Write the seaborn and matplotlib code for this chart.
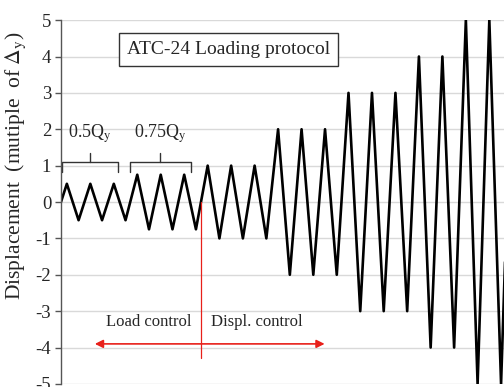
import matplotlib
matplotlib.use("Agg")
import matplotlib.pyplot as plt
import seaborn as sns
import pandas as pd

# Data
group_amplitudes = [0.5, 0.75, 1.0, 2.0, 3.0, 4.0, 5.0]
group_cycles = [3, 3, 3, 3, 3, 2, 2]
y_ticks = [-5, -4, -3, -2, -1, 0, 1, 2, 3, 4, 5]

# Build triangular series (quarter-cycle time units)
t_vals = [0]
d_vals = [0.0]
k = 0
for amp, n in zip(group_amplitudes, group_cycles):
    for _ in range(n):
        t_vals += [4 * k + 1, 4 * k + 3]
        d_vals += [amp, -amp]
        k += 1
t_vals.append(4 * k)
d_vals.append(0.0)
df = pd.DataFrame({"t": t_vals, "disp": d_vals})

sns.set_style("white")
plt.rcParams["font.family"] = ["Liberation Serif", "DejaVu Serif"]
plt.rcParams["mathtext.fontset"] = "stix"
plt.rcParams["axes.unicode_minus"] = False

fig = plt.figure(figsize=(5.04, 3.87), dpi=100)
ax = fig.add_axes([0.121, 0.008, 0.879, 0.940])

ax.set_ylim(-5, 5)
ax.set_xlim(0, 75.5)
ax.set_yticks(y_ticks)
ax.yaxis.grid(True, color="#d9d9d9", linewidth=1.0)
ax.set_axisbelow(True)

sns.lineplot(data=df, x="t", y="disp", ax=ax, color="black", linewidth=1.9,
             sort=False, estimator=None)

for s in ["top", "right", "bottom"]:
    ax.spines[s].set_visible(False)
ax.spines["left"].set_color("#555555")
ax.spines["left"].set_linewidth(1.0)
ax.set_xticks([])
ax.set_xlabel("")
ax.tick_params(axis="y", left=True, length=4, width=1, color="#555555",
               labelsize=13.5, pad=3)
ax.set_ylabel(r"Displacement  (mutiple  of $\Delta_{\rm y}$)", fontsize=15.5)
ax.yaxis.set_label_coords(-0.074, 0.60)

# Title box
ax.text(11.2, 4.2, "ATC-24 Loading protocol", fontsize=14, ha="left", va="center",
        bbox=dict(boxstyle="square,pad=0.4", facecolor="white", edgecolor="#333333", linewidth=1.0))

# Brackets
def bracket(x0, x1, label):
    xm = (x0 + x1) / 2
    ax.plot([x0, x0, x1, x1], [0.82, 1.1, 1.1, 0.82], color="#333333", lw=1.0)
    ax.plot([xm, xm], [1.1, 1.35], color="#333333", lw=1.0)
    ax.text(xm, 1.88, label, ha="center", va="center", fontsize=13)

bracket(0.1, 9.8, r"0.5Q$_{\rm y}$")
bracket(11.8, 22.1, r"0.75Q$_{\rm y}$")

# Control split
red = "#e8201a"
ax.plot([23.9, 23.9], [0, -4.28], color=red, lw=0.9)
ax.annotate("", xy=(5.3, -3.9), xytext=(45.4, -3.9),
            arrowprops=dict(arrowstyle="<|-|>", color=red, lw=1.2, mutation_scale=12))
ax.text(14.9, -3.3, "Load control", ha="center", va="center", fontsize=12)
ax.text(33.4, -3.3, "Displ. control", ha="center", va="center", fontsize=12)

fig.savefig("out.png", dpi=100)
